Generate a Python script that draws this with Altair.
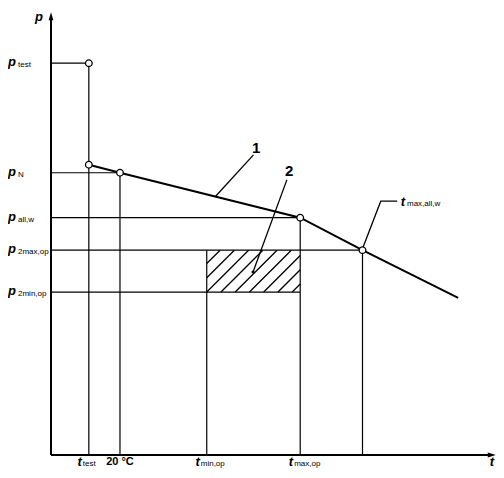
import altair as alt
import pandas as pd

# ---- schematic axis extents (arbitrary units) ----
T_MAX = 100.0
P_MAX = 99.5

# temperature levels along t
t_subs = ["test", "20 °C", "min,op", "max,op", "max,all,w"]
t_levels = [8.5, 15.5, 35.0, 56.0, 70.0]

# pressure levels along p
p_subs = ["test", "N", "all,w", "2max,op", "2min,op"]
p_levels = [88.0, 63.4, 53.3, 46.0, 36.6]

# curve 1: allowable pressure vs temperature
curve_t = [8.5, 15.5, 56.0, 70.0, 91.5]
curve_p = [65.2, 63.4, 53.3, 46.0, 35.3]

# open circles
marker_t = [8.5, 8.5, 15.5, 56.0, 70.0]
marker_p = [88.0, 65.2, 63.4, 53.3, 46.0]

# guide lines: horizontal (at p, from axis to t) and vertical (at t, from axis to p)
h_guide_p = [88.0, 63.4, 53.3, 46.0, 36.6]
h_guide_t = [8.5, 15.5, 56.0, 70.0, 56.0]
v_guide_t = [8.5, 15.5, 35.0, 56.0, 70.0]
v_guide_p = [88.0, 63.4, 46.0, 53.3, 46.0]

# hatched operating region 2
region_t = [35.0, 56.0]
region_p = [36.6, 46.0]
hatch_step = 3.2

# leader lines
leader1_t = [45.5, 36.9]
leader1_p = [67.4, 58.0]
leader2_t = [53.0, 45.4]
leader2_p = [61.8, 41.1]
leader3_t = [70.1, 74.1, 77.8]
leader3_p = [46.6, 57.0, 57.0]

callout_text = ["1", "2"]
callout_t = [46.1, 53.5]
callout_p = [69.0, 63.8]

FONT = "Liberation Sans"

xs = alt.Scale(domain=[0, T_MAX], nice=False, zero=False)
ys = alt.Scale(domain=[0, P_MAX], nice=False, zero=False)
X = lambda f: alt.X(f, type="quantitative", scale=xs, axis=None)
Y = lambda f: alt.Y(f, type="quantitative", scale=ys, axis=None)

# ---- axes with arrows ----
axes_df = pd.DataFrame({"t": [0, 0], "p": [0, 0], "t2": [0, 98.6], "p2": [98.4, 0]})
axes = alt.Chart(axes_df).mark_rule(color="black", strokeWidth=2).encode(
    x=X("t"), y=Y("p"), x2="t2", y2="p2")

up_df = pd.DataFrame({"t": [0.0], "p": [P_MAX - 0.95]})
up_arrow = alt.Chart(up_df).mark_point(
    shape="M0,-1L0.6,1L-0.6,1Z", size=64, filled=True, color="black", opacity=1
).encode(x=X("t"), y=Y("p"))
right_df = pd.DataFrame({"t": [T_MAX - 0.95], "p": [0.0]})
right_arrow = alt.Chart(right_df).mark_point(
    shape="M1,0L-1,-0.6L-1,0.6Z", size=64, filled=True, color="black", opacity=1
).encode(x=X("t"), y=Y("p"))

# ---- guide lines ----
hg = pd.DataFrame({"t": [0.0] * len(h_guide_p), "t2": h_guide_t, "p": h_guide_p})
hguides = alt.Chart(hg).mark_rule(color="black", strokeWidth=1.2).encode(
    x=X("t"), x2="t2", y=Y("p"))
vg = pd.DataFrame({"t": v_guide_t, "p": [0.0] * len(v_guide_t), "p2": v_guide_p})
vguides = alt.Chart(vg).mark_rule(color="black", strokeWidth=1.2).encode(
    x=X("t"), y=Y("p"), y2="p2")

# ---- hatching ----
rows = []
c0 = region_p[0] - region_t[0]
for k in range(-9, 6):
    c = c0 + k * hatch_step
    ta = max(region_t[0], region_p[0] - c)
    tb = min(region_t[1], region_p[1] - c)
    if tb - ta > 0.05:
        rows.append({"t": ta, "p": ta + c, "t2": tb, "p2": tb + c})
hatch = alt.Chart(pd.DataFrame(rows)).mark_rule(color="black", strokeWidth=1.3).encode(
    x=X("t"), y=Y("p"), x2="t2", y2="p2")

# ---- curve ----
cdf = pd.DataFrame({"t": curve_t, "p": curve_p, "o": range(len(curve_t))})
curve = alt.Chart(cdf).mark_line(color="black", strokeWidth=2).encode(
    x=X("t"), y=Y("p"), order="o")

# ---- leaders ----
ldf = pd.DataFrame({
    "t": leader1_t + leader2_t + leader3_t,
    "p": leader1_p + leader2_p + leader3_p,
    "g": ["a"] * 2 + ["b"] * 2 + ["c"] * 3,
    "o": [0, 1, 0, 1, 0, 1, 2],
})
leaders = alt.Chart(ldf).mark_line(color="black", strokeWidth=1.3).encode(
    x=X("t"), y=Y("p"), detail="g", order="o")
dot = alt.Chart(pd.DataFrame({"t": [leader2_t[1]], "p": [leader2_p[1]]})).mark_point(
    shape="circle", size=10, filled=True, color="black", opacity=1
).encode(x=X("t"), y=Y("p"))

# ---- markers ----
mdf = pd.DataFrame({"t": marker_t, "p": marker_p})
markers = alt.Chart(mdf).mark_point(
    shape="circle", size=44, filled=True, fill="white", stroke="black",
    strokeWidth=1.3, opacity=1
).encode(x=X("t"), y=Y("p"))

# ---- texts ----
main_style = dict(font=FONT, fontSize=13, fontWeight="bold", fontStyle="italic", color="black")
sub_style = dict(font=FONT, fontSize=8, color="black")
BOTTOM_Y = 450

pl = pd.DataFrame({"p": p_levels, "sub": p_subs, "m": ["p"] * len(p_levels)})
p_main = alt.Chart(pl).mark_text(align="center", baseline="middle", dy=-1, **main_style).encode(
    x=alt.value(-39), y=Y("p"), text="m")
p_sub = alt.Chart(pl).mark_text(align="left", baseline="middle", dy=2, **sub_style).encode(
    x=alt.value(-33), y=Y("p"), text="sub")

tl = pd.DataFrame({"t": [t_levels[0], t_levels[2], t_levels[3]],
                   "sub": [t_subs[0], t_subs[2], t_subs[3]], "m": ["t"] * 3})
t_main = alt.Chart(tl).mark_text(align="right", baseline="middle", dx=-7, **main_style).encode(
    x=X("t"), y=alt.value(BOTTOM_Y), text="m")
t_sub = alt.Chart(tl).mark_text(align="left", baseline="middle", dx=-6, dy=2, **sub_style).encode(
    x=X("t"), y=alt.value(BOTTOM_Y), text="sub")
t20 = alt.Chart(pd.DataFrame({"t": [t_levels[1]], "s": [t_subs[1]]})).mark_text(
    align="center", baseline="middle", font=FONT, fontSize=11, fontWeight="bold", color="black"
).encode(x=X("t"), y=alt.value(BOTTOM_Y), text="s")

tw = pd.DataFrame({"t": [79.1], "p": [56.9], "m": ["t"], "sub": [t_subs[4]]})
tw_main = alt.Chart(tw).mark_text(align="center", baseline="middle", **main_style).encode(
    x=X("t"), y=Y("p"), text="m")
tw_sub = alt.Chart(tw).mark_text(align="left", baseline="middle", dx=4, dy=2, **sub_style).encode(
    x=X("t"), y=Y("p"), text="sub")

ax_lab = pd.DataFrame({"m": ["p", "t"]})
p_ax = alt.Chart(ax_lab.iloc[[0]]).mark_text(align="center", baseline="middle", **main_style).encode(
    x=alt.value(-12), y=alt.value(5), text="m")
t_ax = alt.Chart(ax_lab.iloc[[1]]).mark_text(align="center", baseline="middle", **main_style).encode(
    x=alt.value(441), y=alt.value(BOTTOM_Y), text="m")

cl = pd.DataFrame({"t": callout_t, "p": callout_p, "s": callout_text})
callouts = alt.Chart(cl).mark_text(align="center", baseline="middle", font=FONT,
                                    fontSize=15, fontWeight="bold", color="black").encode(
    x=X("t"), y=Y("p"), text="s")

chart = alt.layer(
    hguides, vguides, hatch, axes, up_arrow, right_arrow, curve, leaders, dot, markers,
    p_main, p_sub, t_main, t_sub, t20, tw_main, tw_sub, p_ax, t_ax, callouts
).properties(
    width=445, height=443,
    autosize=alt.AutoSizeParams(type="none"),
    padding={"left": 43, "top": 4, "right": 0, "bottom": 15},
    background="white",
).configure_view(strokeWidth=0)

chart.save("out.html", embed_options={"renderer": "svg", "actions": False})
